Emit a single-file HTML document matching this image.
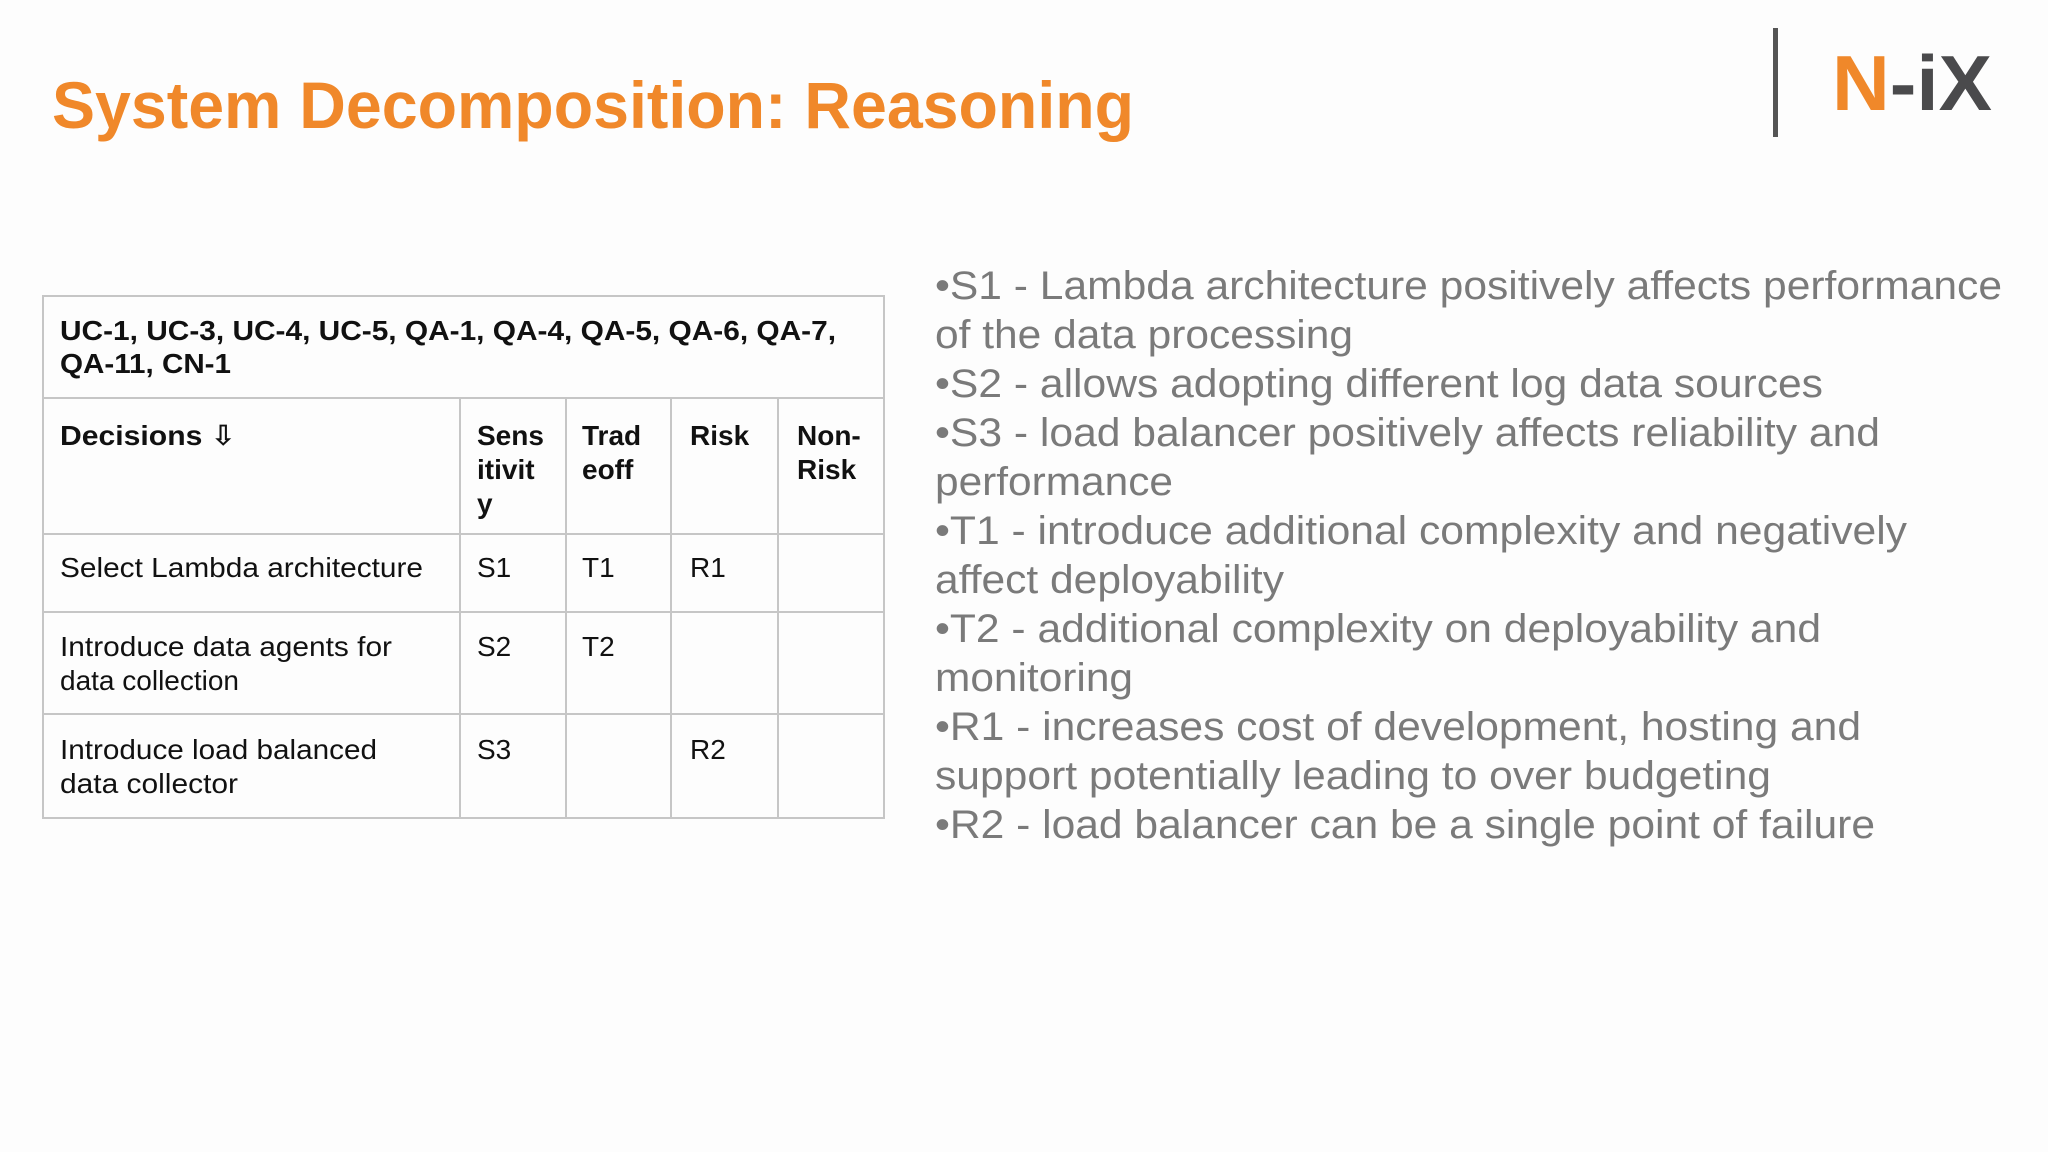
<!DOCTYPE html>
<html><head><meta charset="utf-8">
<style>
html,body{margin:0;padding:0;background:#fdfdfd;}
svg{display:block;}
text{font-family:"Liberation Sans","DejaVu Sans",sans-serif;}
</style></head>
<body>
<svg width="2048" height="1152" viewBox="0 0 2048 1152">
<rect width="2048" height="1152" fill="#fdfdfd"/>
<text x="52" y="128" font-size="66" font-weight="bold" fill="#f0882a" textLength="1082" lengthAdjust="spacingAndGlyphs">System Decomposition: Reasoning</text>

<g>
<rect x="1773" y="28" width="5" height="109" fill="#555"/>
<text x="1832" y="110" font-size="78" font-weight="bold" textLength="160" lengthAdjust="spacingAndGlyphs"><tspan fill="#f0882a">N</tspan><tspan fill="#4a4a4c">-iX</tspan></text>
</g>

<g fill="none" stroke="#c6c6c6" stroke-width="2">
<rect x="43" y="296" width="841" height="522"/>
<line x1="43" y1="398" x2="884" y2="398"/>
<line x1="43" y1="534" x2="884" y2="534"/>
<line x1="43" y1="612" x2="884" y2="612"/>
<line x1="43" y1="714" x2="884" y2="714"/>
<line x1="460" y1="398" x2="460" y2="818"/>
<line x1="566" y1="398" x2="566" y2="818"/>
<line x1="671" y1="398" x2="671" y2="818"/>
<line x1="778" y1="398" x2="778" y2="818"/>
</g>
<g font-size="28" fill="#111">
<g font-weight="bold">
<text x="60" y="340" textLength="776" lengthAdjust="spacingAndGlyphs">UC-1, UC-3, UC-4, UC-5, QA-1, QA-4, QA-5, QA-6, QA-7,</text>
<text x="60" y="373" textLength="171" lengthAdjust="spacingAndGlyphs">QA-11, CN-1</text>
<text x="60" y="445" textLength="176" lengthAdjust="spacingAndGlyphs">Decisions ⇩</text>
<text x="477" y="445">Sens</text><text x="477" y="479">itivit</text><text x="477" y="513">y</text>
<text x="582" y="445">Trad</text><text x="582" y="479">eoff</text>
<text x="690" y="445">Risk</text>
<text x="797" y="445">Non-</text><text x="797" y="479">Risk</text>
</g>
<text x="60" y="577" textLength="363" lengthAdjust="spacingAndGlyphs">Select Lambda architecture</text>
<text x="477" y="577">S1</text><text x="582" y="577">T1</text><text x="690" y="577">R1</text>
<text x="60" y="656" textLength="332" lengthAdjust="spacingAndGlyphs">Introduce data agents for</text><text x="60" y="690">data collection</text>
<text x="477" y="656">S2</text><text x="582" y="656">T2</text>
<text x="60" y="759" textLength="317" lengthAdjust="spacingAndGlyphs">Introduce load balanced</text><text x="60" y="793" textLength="178" lengthAdjust="spacingAndGlyphs">data collector</text>
<text x="477" y="759">S3</text><text x="690" y="759">R2</text>
</g>

<g font-size="40" fill="#7a7a7a">
<text x="935" y="299" textLength="1067" lengthAdjust="spacingAndGlyphs">•S1 - Lambda architecture positively affects performance</text>
<text x="935" y="348" textLength="418" lengthAdjust="spacingAndGlyphs">of the data processing</text>
<text x="935" y="397" textLength="888" lengthAdjust="spacingAndGlyphs">•S2 - allows adopting different log data sources</text>
<text x="935" y="446" textLength="945" lengthAdjust="spacingAndGlyphs">•S3 - load balancer positively affects reliability and</text>
<text x="935" y="495" textLength="238" lengthAdjust="spacingAndGlyphs">performance</text>
<text x="935" y="544" textLength="972" lengthAdjust="spacingAndGlyphs">•T1 - introduce additional complexity and negatively</text>
<text x="935" y="593" textLength="349" lengthAdjust="spacingAndGlyphs">affect deployability</text>
<text x="935" y="642" textLength="886" lengthAdjust="spacingAndGlyphs">•T2 - additional complexity on deployability and</text>
<text x="935" y="691" textLength="198" lengthAdjust="spacingAndGlyphs">monitoring</text>
<text x="935" y="740" textLength="926" lengthAdjust="spacingAndGlyphs">•R1 - increases cost of development, hosting and</text>
<text x="935" y="789" textLength="836" lengthAdjust="spacingAndGlyphs">support potentially leading to over budgeting</text>
<text x="935" y="838" textLength="940" lengthAdjust="spacingAndGlyphs">•R2 - load balancer can be a single point of failure</text>
</g>
</svg>
</body></html>
